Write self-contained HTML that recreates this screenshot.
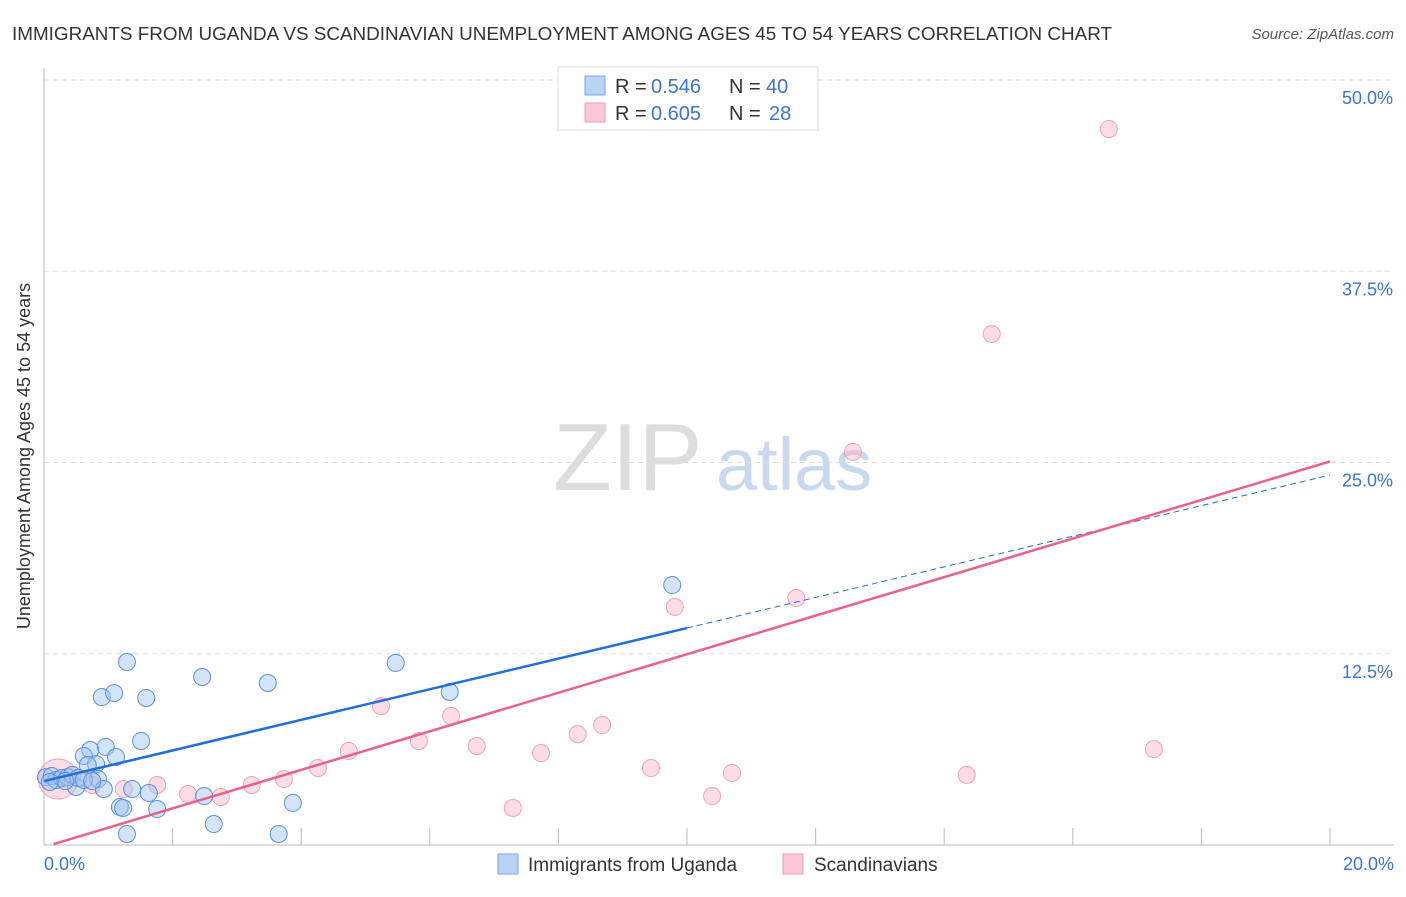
<!DOCTYPE html>
<html><head><meta charset="utf-8"><style>
body{margin:0;background:#fff;font-family:"Liberation Sans",sans-serif}
svg text{font-family:"Liberation Sans",sans-serif}
</style></head><body>
<svg id="c" width="1406" height="892">
<text x="12" y="40" font-size="18" fill="#333" textLength="1100" lengthAdjust="spacingAndGlyphs">IMMIGRANTS FROM UGANDA VS SCANDINAVIAN UNEMPLOYMENT AMONG AGES 45 TO 54 YEARS CORRELATION CHART</text>
<text x="1394" y="39" font-size="15" fill="#555" font-style="italic" text-anchor="end">Source: ZipAtlas.com</text>
<text x="30" y="456" font-size="18" fill="#333" text-anchor="middle" transform="rotate(-90 30 456)">Unemployment Among Ages 45 to 54 years</text>
<g>
<text x="553" y="490" font-size="96" fill="#ddd" font-family="Liberation Serif">ZIP</text>
<text x="716" y="490" font-size="74" fill="#c8d8ef">atlas</text>
</g>
<g id="grid"></g><g id="axes"></g><g id="marks"></g>
<g>
<rect x="558" y="67" width="260" height="63" fill="#fff" stroke="#ddd"/>
<rect x="585" y="76" width="20" height="19" fill="#b9d3f5" stroke="#7aa6e6"/>
<rect x="585" y="103" width="20" height="19" fill="#fcc8d8" stroke="#f09ab4"/>
<g font-size="20">
<text x="615" y="93" fill="#333">R =</text><text x="651" y="93" fill="#3a75d0">0.546</text>
<text x="729" y="93" fill="#333">N =</text><text x="766" y="93" fill="#3a75d0">40</text></g>
<g font-size="20">
<text x="615" y="120" fill="#333">R =</text><text x="651" y="120" fill="#3a75d0">0.605</text>
<text x="729" y="120" fill="#333">N =</text><text x="769" y="120" fill="#3a75d0">28</text></g>
</g>
<g>
<rect x="498" y="854" width="20" height="20" fill="#b9d3f5" stroke="#7aa6e6"/>
<text x="528" y="871" font-size="19" fill="#333">Immigrants from Uganda</text>
<rect x="783" y="854" width="20" height="20" fill="#fcc8d8" stroke="#f09ab4"/>
<text x="814" y="871" font-size="19" fill="#333">Scandinavians</text>
</g>
</svg>
<script>
const blueX=[1.29,2.46,3.48,5.47,6.31,9.77,0.90,1.09,1.59,1.51,0.96,0.72,0.62,1.12,0.81,0.68,0.84,0.93,0.50,1.37,1.63,1.18,1.23,1.76,2.49,3.87,2.64,1.29,3.65,0.03,0.12,0.19,0.28,0.37,0.44,0.53,0.62,0.33,0.09,0.75];
const blueY=[11.96,10.98,10.59,11.90,10.0,16.99,9.67,9.93,9.61,6.80,6.41,6.21,5.82,5.75,5.29,5.23,4.31,3.66,3.79,3.66,3.40,2.48,2.42,2.35,3.20,2.75,1.37,0.72,0.72,4.44,4.51,4.25,4.38,4.44,4.58,4.38,4.25,4.18,4.12,4.18];
const pinkX=[16.56,14.74,12.58,9.81,11.70,5.24,6.33,8.68,8.30,5.83,6.73,7.73,4.74,4.26,9.44,10.70,14.35,17.26,3.73,3.23,2.75,2.24,1.76,1.24,7.29,10.39,0.75,0.22];
const pinkY=[46.80,33.40,25.69,15.56,16.14,9.08,8.43,7.84,7.25,6.80,6.47,6.01,6.14,5.03,5.03,4.71,4.58,6.27,4.31,3.92,3.14,3.33,3.92,3.66,2.42,3.20,3.92,4.31];
const blueTrend=[4.18,1.0];
const pinkTrend=[-0.13,1.26];
const yTicks=[12.5,25,37.5,50];
const yTickLabels=["12.5%","25.0%","37.5%","50.0%"];
const xTickLabels=["0.0%","20.0%"];
const NS="http://www.w3.org/2000/svg";
const X0=44,X1=1330,Y0=845,Y1=80;
const sx=v=>X0+v/20*(X1-X0);
const sy=v=>Y0-v/50*(Y0-Y1);
function mk(tag,attrs,parent){const e=document.createElementNS(NS,tag);for(const k in attrs)e.setAttribute(k,attrs[k]);document.getElementById(parent).appendChild(e);return e;}
yTicks.forEach((t,i)=>{
 const l=mk('line',{x1:X0,x2:1394,y1:sy(t),y2:sy(t),stroke:'#ddd','stroke-dasharray':'5,4'},'grid');
 
 
 const tx=mk('text',{x:1393,y:sy(t)+24,'font-size':18,fill:'#3a75d0','text-anchor':'end'},'axes');
 tx.textContent=yTickLabels[i];
 
 
});
let a=mk('line',{x1:X0,x2:X0,y1:68,y2:Y0,stroke:'#bbb'},'axes');


a=mk('line',{x1:X0,x2:1394,y1:Y0,y2:Y0,stroke:'#bbb'},'axes');


for(let i=1;i<=10;i++){
 const t=mk('line',{x1:sx(i*2),x2:sx(i*2),y1:828,y2:Y0,stroke:'#bbb'},'axes');
 
 
}
[[0,'start',44],[20,'end',1394]].forEach(([v,anc,px],i)=>{
 const t=mk('text',{x:px,y:870,'font-size':18,fill:'#3a75d0','text-anchor':anc},'axes');
 t.textContent=xTickLabels[i];
 
 
});
pinkX.forEach((x,i)=>{
 const c=mk('circle',{cx:sx(x),cy:sy(pinkY[i]),r:i===pinkX.length-1?20:8.5,fill:'rgba(249,180,200,0.45)',stroke:'#f0a0bb','stroke-width':1},'marks');
 
 
});
blueX.forEach((x,i)=>{
 const c=mk('circle',{cx:sx(x),cy:sy(blueY[i]),r:8.5,fill:'rgba(160,195,240,0.45)',stroke:'#5a8fe0','stroke-width':1},'marks');
 
 
});
const bf=v=>blueTrend[0]+blueTrend[1]*v, pf=v=>pinkTrend[0]+pinkTrend[1]*v;
let l=mk('line',{x1:sx(0),y1:sy(bf(0)),x2:sx(10),y2:sy(bf(10)),stroke:'#1f6fd6','stroke-width':2.5},'marks');


l=mk('line',{x1:sx(10),y1:sy(bf(10)),x2:sx(20),y2:sy(bf(20)),stroke:'#1f6fd6','stroke-width':1,'stroke-dasharray':'6,4'},'marks');


l=mk('line',{x1:sx(0.15),y1:sy(pf(0.15)),x2:sx(20),y2:sy(pf(20)),stroke:'#e8608c','stroke-width':2.5},'marks');


</script>
</body></html>
